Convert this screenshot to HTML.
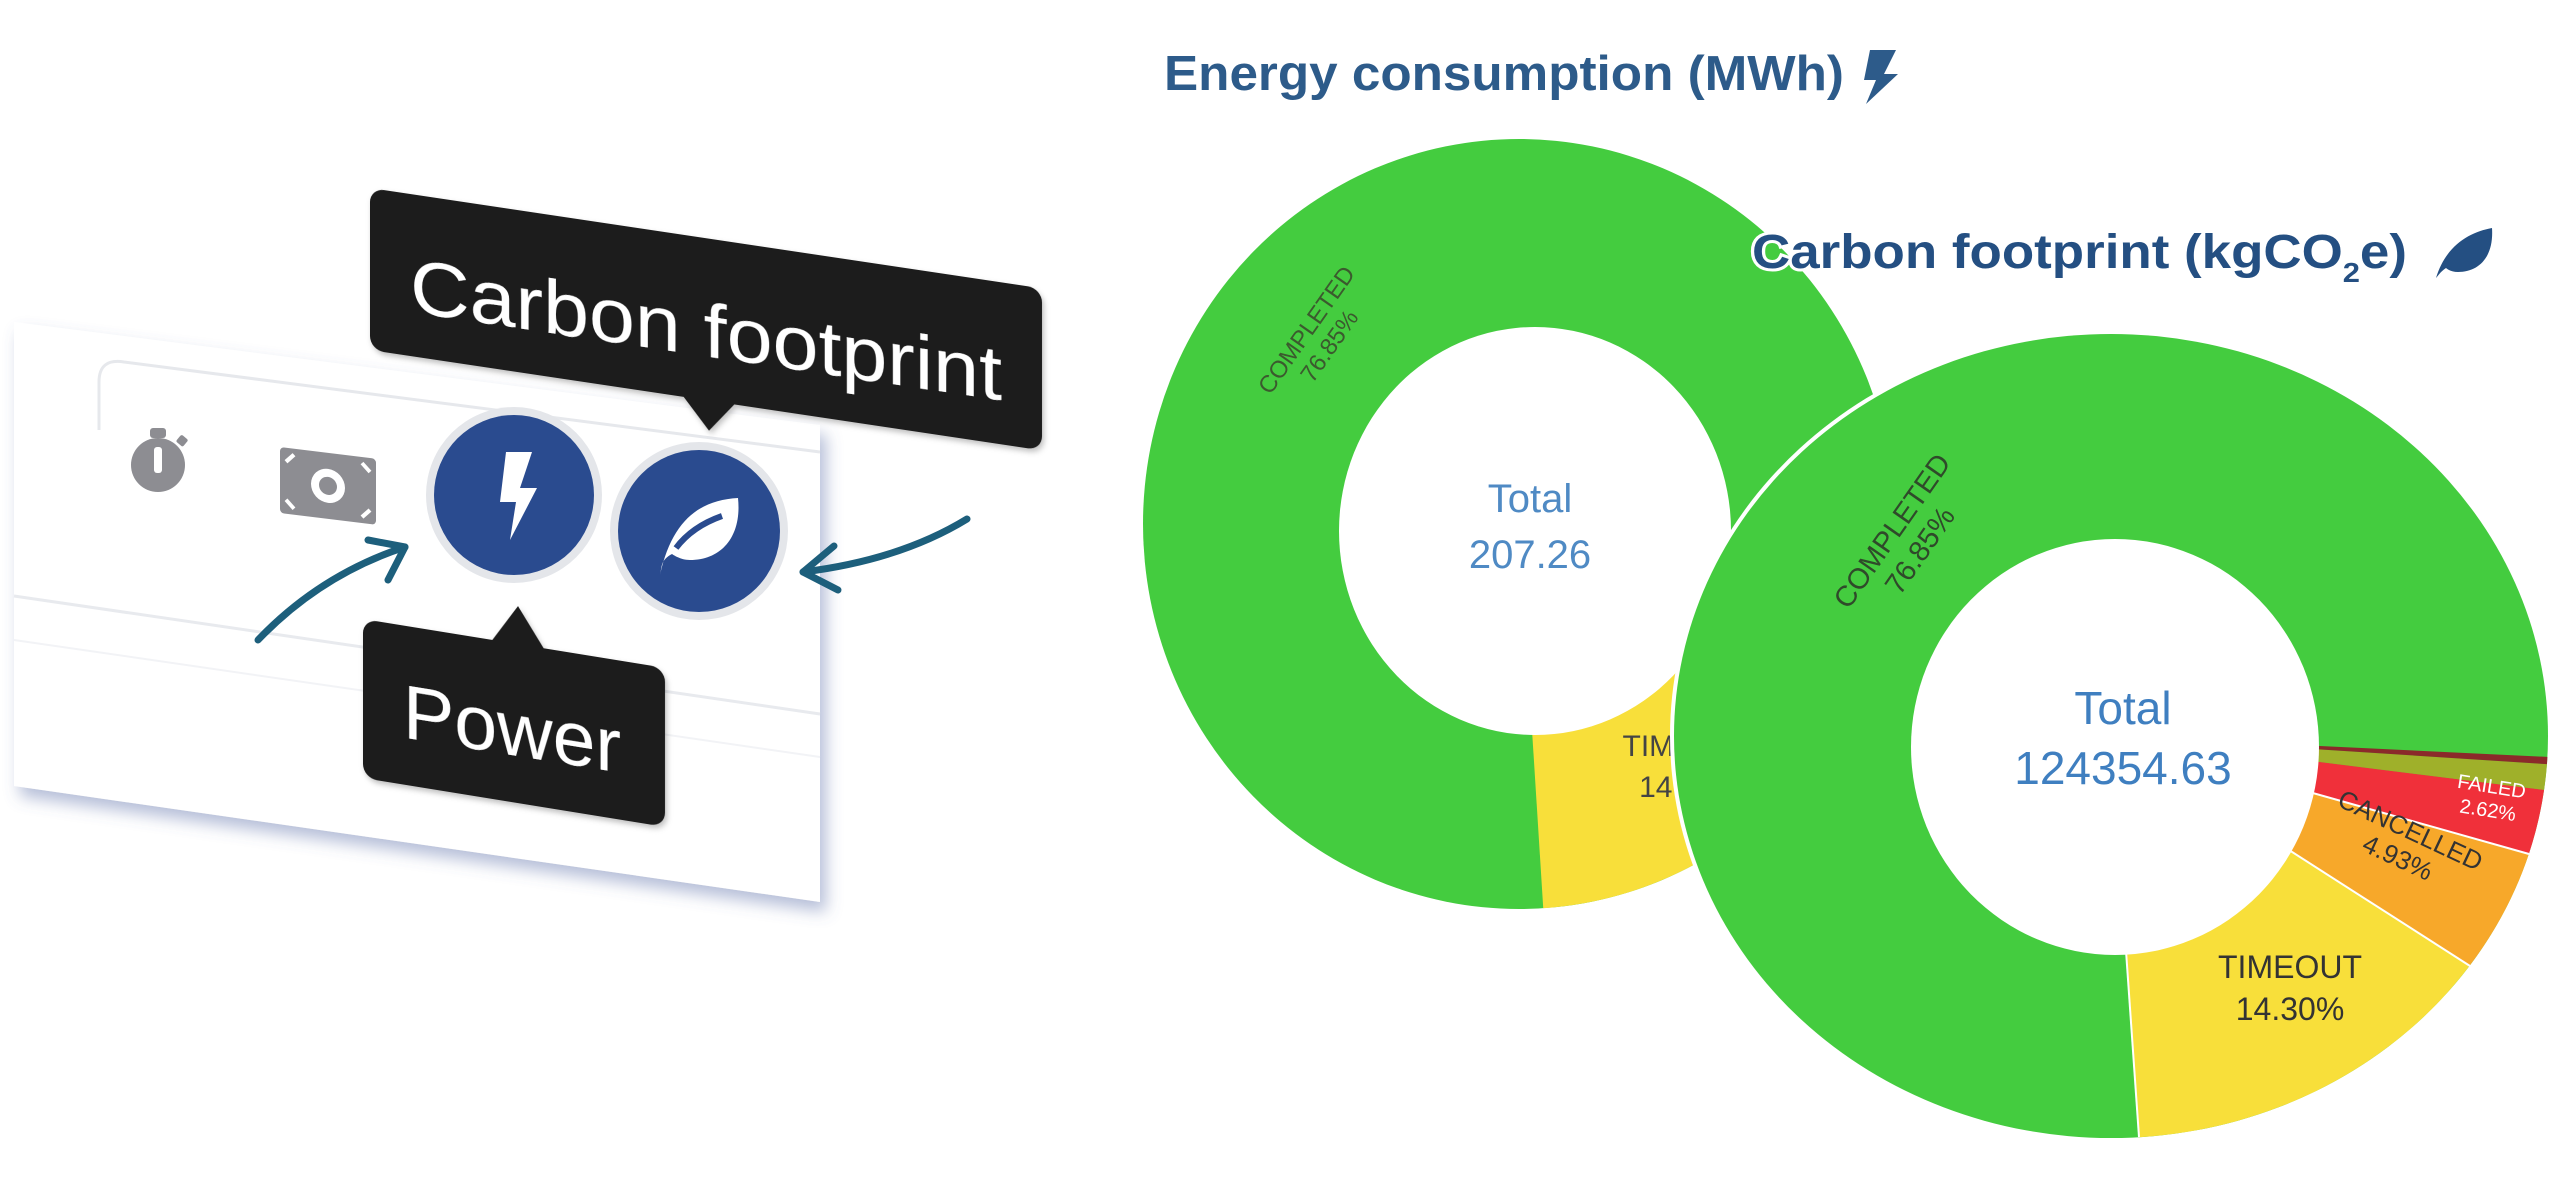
<!DOCTYPE html>
<html><head><meta charset="utf-8"><style>
html,body{margin:0;padding:0;background:#fff;}
svg{display:block;font-family:"Liberation Sans",Arial,sans-serif;}
</style></head><body>
<svg width="2560" height="1177" viewBox="0 0 2560 1177" xmlns="http://www.w3.org/2000/svg">
<defs>
<filter id="sh" x="-10%" y="-10%" width="130%" height="130%">
<feDropShadow dx="6" dy="10" stdDeviation="8" flood-color="#5b6fa8" flood-opacity="0.45"/>
</filter>
<filter id="sh2" x="-20%" y="-20%" width="140%" height="140%">
<feDropShadow dx="2" dy="3" stdDeviation="3" flood-color="#000" flood-opacity="0.25"/>
</filter>
</defs>

<!-- LEFT PANEL -->
<polygon points="14,322 820,425 820,902 14,786" fill="#fff" filter="url(#sh)"/>
<path d="M99,430 L99,382 Q99,358 124,362 L820,452" fill="none" stroke="#e6e8ec" stroke-width="3"/>
<line x1="14" y1="596" x2="820" y2="714" stroke="#e8eaee" stroke-width="3"/>
<line x1="14" y1="640" x2="820" y2="757" stroke="#f2f3f6" stroke-width="2"/>

<!-- stopwatch -->
<g fill="#8d8d92">
<circle cx="158" cy="465" r="27"/>
<rect x="150" y="428" width="16" height="10" rx="3"/>
<rect x="178" y="436" width="9" height="9" rx="2" transform="rotate(40 182 440)"/>
</g>
<rect x="154" y="447" width="8" height="26" rx="3" fill="#fff"/>
<!-- money -->
<g transform="translate(280,447) skewY(7)">
<rect x="0" y="0" width="96" height="66" rx="4" fill="#8d8d92"/>
<circle cx="48" cy="33" r="17" fill="#fff"/>
<circle cx="48" cy="33" r="9" fill="#8d8d92"/>
<path d="M6,14 L14,6 M82,6 L90,14 M6,52 L14,60 M82,60 L90,52" stroke="#fff" stroke-width="4"/>
</g>

<!-- blue buttons -->
<circle cx="514" cy="495" r="88" fill="#e4e6ea"/>
<circle cx="514" cy="495" r="80" fill="#2a4b8f"/>
<path d="M506,452 L532,452 L520,488 L537,488 L510,540 L516,502 L500,502 Z" fill="#fff"/>
<circle cx="699" cy="531" r="89" fill="#e4e6ea"/>
<circle cx="699" cy="531" r="81" fill="#2a4b8f"/>
<path d="M660,575 C672,520 700,500 738,498 C742,536 722,560 690,560 C680,560 672,554 672,554 C660,560 662,568 660,575 Z" fill="#fff"/>
<path d="M676,548 C688,532 705,522 722,516" stroke="#2a4b8f" stroke-width="6" fill="none"/>

<!-- tooltip Carbon footprint -->
<g transform="translate(370,188) skewY(8.5)" filter="url(#sh2)">
<rect x="0" y="0" width="672" height="162" rx="14" fill="#1b1b1b"/>
<polygon points="312,160 366,160 339,192" fill="#1b1b1b"/>
<text x="40" y="118" font-size="76" fill="#fff" textLength="592" lengthAdjust="spacingAndGlyphs">Carbon footprint</text>
</g>
<!-- tooltip Power -->
<g transform="translate(363,619) skewY(9.2)" filter="url(#sh2)">
<rect x="0" y="0" width="302" height="159" rx="14" fill="#1b1b1b"/>
<polygon points="128,2 182,2 155,-38" fill="#1b1b1b"/>
<text x="40" y="112" font-size="76" fill="#fff" textLength="218" lengthAdjust="spacingAndGlyphs">Power</text>
</g>

<!-- arrows -->
<g fill="none" stroke="#1d5f7c" stroke-width="7" stroke-linecap="round" stroke-linejoin="round">
<path d="M258,640 Q320,575 405,547"/>
<path d="M368,540 L405,547 L388,580"/>
<path d="M967,519 Q900,560 803,572"/>
<path d="M834,546 L803,572 L838,590"/>
</g>

<!-- RIGHT: titles -->
<text x="1164" y="90" font-size="49" font-weight="bold" fill="#2d5b8a" textLength="680" lengthAdjust="spacingAndGlyphs">Energy consumption (MWh)</text>
<path d="M1870,50 L1896,50 L1884,74 L1898,74 L1866,104 L1876,80 L1864,80 Z" fill="#2d5b8a"/>

<!-- Donut 1 -->
<g transform="translate(1519,524) scale(376,385)">
<ellipse cx="0" cy="0" rx="1" ry="1" fill="#44cc3f"/>
<path d="M0,0 L0.0645,0.998 A1,1 0 0 0 0.821,0.571 Z" fill="#f8df3a"/>
<path d="M0,0 L0.821,0.571 A1,1 0 0 0 0.956,0.294 Z" fill="#f7a82a"/>
<path d="M0,0 L0.956,0.294 A1,1 0 0 0 0.991,0.134 Z" fill="#f0303a"/>
<path d="M0,0 L0.991,0.134 A1,1 0 0 0 0.9976,0.07 Z" fill="#9fb02a"/>
<path d="M0,0 L0.9976,0.07 A1,1 0 0 0 0.9986,0.052 Z" fill="#8b2a2a"/>
</g>
<ellipse cx="1535" cy="531" rx="196" ry="204" fill="#fff"/>
<text x="1530" y="512" font-size="40" fill="#4f8ac4" text-anchor="middle">Total</text>
<text x="1530" y="568" font-size="40" fill="#4f8ac4" text-anchor="middle">207.26</text>
<g transform="translate(1318,338) rotate(-55)" font-size="24" fill="#3b5a2e" text-anchor="middle">
<text x="0" y="-6">COMPLETED</text><text x="0" y="22">76.85%</text></g>
<text x="1690" y="756" font-size="30" fill="#444" text-anchor="middle">TIMEOUT</text>
<text x="1690" y="797" font-size="30" fill="#444" text-anchor="middle">14.30%</text>

<!-- Donut 2 -->
<ellipse cx="2111" cy="736" rx="441" ry="406" fill="#fff"/>
<g transform="translate(2111,736) scale(437,402)">
<ellipse cx="0" cy="0" rx="1" ry="1" fill="#44cc3f"/>
<path d="M0,0 L0.0645,0.998 A1,1 0 0 0 0.821,0.571 Z" fill="#f8df3a"/>
<path d="M0,0 L0.821,0.571 A1,1 0 0 0 0.956,0.294 Z" fill="#f7a82a"/>
<path d="M0,0 L0.956,0.294 A1,1 0 0 0 0.991,0.134 Z" fill="#f0303a"/>
<path d="M0,0 L0.991,0.134 A1,1 0 0 0 0.9976,0.07 Z" fill="#9fb02a"/>
<path d="M0,0 L0.9976,0.07 A1,1 0 0 0 0.9986,0.052 Z" fill="#8b2a2a"/>
</g>
<g stroke="#fff" stroke-width="2">
<line x1="2111" y1="736" x2="2139" y2="1137"/>
<line x1="2111" y1="736" x2="2470" y2="966"/>
<line x1="2111" y1="736" x2="2529" y2="854"/>
</g>
<ellipse cx="2115" cy="747" rx="204" ry="208" fill="#fff"/>
<text x="2123" y="724" font-size="46" fill="#3f7fc0" text-anchor="middle">Total</text>
<text x="2123" y="784" font-size="46" fill="#3f7fc0" text-anchor="middle">124354.63</text>
<g transform="translate(1905,540) rotate(-55)" font-size="29" fill="#2f4a2a" text-anchor="middle">
<text x="0" y="-6">COMPLETED</text><text x="0" y="28">76.85%</text></g>
<text x="2290" y="978" font-size="32" fill="#333" text-anchor="middle">TIMEOUT</text>
<text x="2290" y="1020" font-size="32" fill="#333" text-anchor="middle">14.30%</text>
<g transform="translate(2405,842) rotate(25)" font-size="26" fill="#333" text-anchor="middle">
<text x="0" y="-4">CANCELLED</text><text x="0" y="26">4.93%</text></g>
<g transform="translate(2490,797) rotate(9)" font-size="20" fill="#fff" text-anchor="middle">
<text x="0" y="-4">FAILED</text><text x="0" y="20">2.62%</text></g>

<!-- title 2 (over donut) -->
<text x="1752" y="268" font-size="48" font-weight="bold" fill="#244f82" stroke="#fff" stroke-width="6" paint-order="stroke" textLength="655" lengthAdjust="spacingAndGlyphs">Carbon footprint (kgCO<tspan font-size="28" dy="14">2</tspan><tspan dy="-14">e)</tspan></text>
<path d="M2436,278 C2446,245 2470,232 2492,228 C2494,258 2478,272 2458,272 C2450,272 2446,268 2446,268 C2440,272 2438,276 2436,278 Z" fill="#244f82"/>
</svg>
</body></html>
